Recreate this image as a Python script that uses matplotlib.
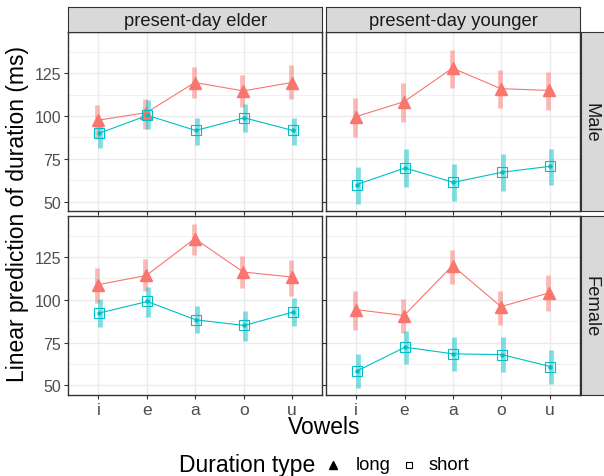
import matplotlib
matplotlib.use("Agg")
import matplotlib.pyplot as plt
from matplotlib.lines import Line2D

plt.rcParams['font.family'] = ['Liberation Sans', 'DejaVu Sans']

vowels = ['i', 'e', 'a', 'o', 'u']
ages = ['present-day elder', 'present-day younger']
genders = ['Male', 'Female']
dur_types = ['long', 'short']

# estimates and interval bounds, keyed by (gender, age)
long_fit = {
    ('Male', 'present-day elder'): [97.6, 102.0, 119.6, 114.7, 119.6],
    ('Male', 'present-day younger'): [99.6, 108.4, 128.0, 116.0, 115.0],
    ('Female', 'present-day elder'): [108.8, 114.2, 135.7, 116.2, 113.3],
    ('Female', 'present-day younger'): [94.3, 90.8, 120.0, 96.0, 104.1],
}
long_lo = {
    ('Male', 'present-day elder'): [87.3, 92.6, 110.8, 105.5, 109.8],
    ('Male', 'present-day younger'): [87.9, 96.7, 116.6, 104.5, 103.5],
    ('Female', 'present-day elder'): [98.2, 104.9, 126.3, 106.8, 102.5],
    ('Female', 'present-day younger'): [82.6, 80.7, 109.4, 85.4, 93.2],
}
long_hi = {
    ('Male', 'present-day elder'): [106.3, 109.8, 128.4, 123.9, 129.9],
    ('Male', 'present-day younger'): [110.8, 119.2, 138.7, 127.0, 125.8],
    ('Female', 'present-day elder'): [118.5, 123.6, 144.4, 125.6, 123.4],
    ('Female', 'present-day younger'): [105.4, 100.6, 129.2, 105.4, 114.2],
}
short_fit = {
    ('Male', 'present-day elder'): [89.9, 100.4, 91.6, 99.0, 91.6],
    ('Male', 'present-day younger'): [60.0, 69.7, 61.3, 67.2, 70.7],
    ('Female', 'present-day elder'): [92.2, 99.0, 88.3, 85.0, 92.8],
    ('Female', 'present-day younger'): [58.3, 72.3, 68.4, 68.0, 61.0],
}
short_lo = {
    ('Male', 'present-day elder'): [81.5, 92.6, 83.4, 90.8, 83.0],
    ('Male', 'present-day younger'): [48.8, 58.6, 50.6, 56.0, 59.5],
    ('Female', 'present-day elder'): [84.0, 90.2, 80.5, 75.8, 84.4],
    ('Female', 'present-day younger'): [48.4, 62.6, 58.7, 58.1, 50.9],
}
short_hi = {
    ('Male', 'present-day elder'): [95.1, 109.2, 99.0, 106.9, 99.0],
    ('Male', 'present-day younger'): [70.3, 80.5, 72.1, 78.0, 81.0],
    ('Female', 'present-day elder'): [100.6, 107.4, 96.3, 93.4, 101.0],
    ('Female', 'present-day younger'): [68.4, 82.0, 78.5, 78.2, 70.8],
}

red = '#F8766D'
cyan = '#00BFC4'
W, H = 604, 477

fig = plt.figure(figsize=(W / 100, H / 100), dpi=100)


def box(x0, y0, x1, y1):
    return [x0 / W, 1 - y1 / H, (x1 - x0) / W, (y1 - y0) / H]


cols = [(68.3, 322.3), (326.0, 580.0)]
rows = [(33.0, 212.3), (216.7, 396.0)]
x = list(range(1, 6))

for r, g in enumerate(genders):
    for c, a in enumerate(ages):
        ax = fig.add_axes(box(cols[c][0], rows[r][0], cols[c][1], rows[r][1]))
        key = (g, a)
        for fit, lo, hi, col, mk, dx in [
            (long_fit[key], long_lo[key], long_hi[key], red, '^', -0.03),
            (short_fit[key], short_lo[key], short_hi[key], cyan, 's', 0.03),
        ]:
            xs = [v + dx for v in x]
            ax.vlines(xs, lo, hi, color=col, alpha=0.5, lw=3.4, zorder=2)
            xp = [v + dx / 3 for v in x]
            ax.plot(xp, fit, color=col, lw=0.8, zorder=3)
            if mk == '^':
                ax.plot(xp, fit, ls='none', marker='^', ms=8, color=col, zorder=4)
            else:
                ax.plot(xp, fit, ls='none', marker='s', ms=6.5, mfc='none',
                        mec=col, mew=0.8, zorder=4)
                ax.plot(xp, fit, ls='none', marker='o', ms=2.2, color=col, zorder=4)
        ax.set_xlim(0.38, 5.62)
        ax.set_ylim(44.4, 149.1)
        ax.set_yticks([50, 75, 100, 125])
        ax.set_yticks([62.5, 87.5, 112.5, 137.5], minor=True)
        ax.set_xticks(x)
        ax.grid(True, which='major', color='#EBEBEB', lw=1.0, zorder=0)
        ax.grid(True, which='minor', axis='y', color='#EBEBEB', lw=0.5, zorder=0)
        ax.set_axisbelow(True)
        for s in ax.spines.values():
            s.set_color('#333333')
            s.set_linewidth(1.0)
        ax.tick_params(which='minor', length=0)
        ax.tick_params(which='major', length=3, width=0.8, color='#333333',
                       labelsize=11.5, labelcolor='#4D4D4D', pad=2)
        if c == 0:
            ax.set_yticklabels(['50', '75', '100', '125'])
        else:
            ax.set_yticklabels([])
        if r == 1:
            ax.set_xticklabels(vowels, fontsize=12.5)
        else:
            ax.set_xticklabels([])

# strips
for c, a in enumerate(ages):
    sx = fig.add_axes(box(cols[c][0], 8.0, cols[c][1], 32.5))
    sx.set_facecolor('#D9D9D9')
    sx.set_xticks([])
    sx.set_yticks([])
    for s in sx.spines.values():
        s.set_color('#333333')
    sx.text(0.5, 0.45, a, ha='center', va='center', fontsize=13.2, color='#1A1A1A',
            transform=sx.transAxes)
for r, g in enumerate(genders):
    sy = fig.add_axes(box(580.5, rows[r][0], 604.5, rows[r][1]))
    sy.set_facecolor('#D9D9D9')
    sy.set_xticks([])
    sy.set_yticks([])
    for s in sy.spines.values():
        s.set_color('#333333')
    sy.text(0.45, 0.5, g, ha='center', va='center', rotation=-90, fontsize=13.2,
            color='#1A1A1A', transform=sy.transAxes)

fig.text(18 / W, 1 - 214.5 / H, 'Linear prediction of duration (ms)', rotation=90,
         ha='center', va='center', fontsize=16.5)
fig.text(324 / W, 1 - 428 / H, 'Vowels', ha='center', va='center', fontsize=16.5)

# legend, placed by hand to follow the ggplot guide layout
leg_y = 1 - 466 / H
fig.text(179 / W, leg_y, 'Duration type', ha='left', va='center', fontsize=16.5)
fig.add_artist(Line2D([333 / W], [leg_y], ls='none', marker='^', ms=5.5,
                      color='black', transform=fig.transFigure))
fig.add_artist(Line2D([409 / W], [leg_y], ls='none', marker='s', ms=5, mfc='none',
                      mec='black', mew=0.8, transform=fig.transFigure))
fig.text(356 / W, leg_y, dur_types[0], ha='left', va='center', fontsize=13.2)
fig.text(429 / W, leg_y, dur_types[1], ha='left', va='center', fontsize=13.2)

fig.savefig('out.png', dpi=100)
